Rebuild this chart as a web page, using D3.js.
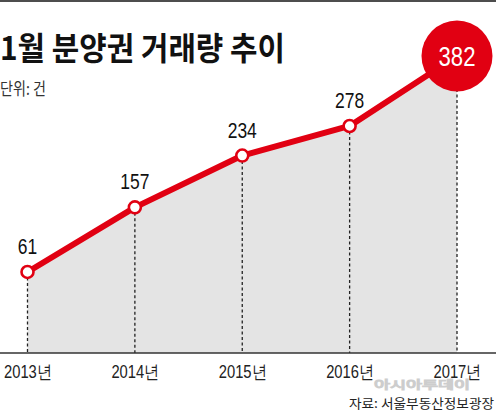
<!DOCTYPE html>
<html><head><meta charset="utf-8">
<script src="https://cdn.jsdelivr.net/npm/d3@7"></script>
<style>
html,body{margin:0;padding:0;background:#fff;}
svg{display:block;}
</style></head>
<body>
<svg id="chart" width="496" height="414"></svg>
<script>
const years = ["2013년", "2014년", "2015년", "2016년", "2017년"];
const values = [61, 157, 234, 278, 382];
const title = "1월 분양권 거래량 추이";
const unitLabel = "단위: 건";
const sourceLabel = "자료: 서울부동산정보광장";
const watermark = "아시아투데이";

const W = 496, H = 414;
const svg = d3.select("#chart");
const RED = "#e10012";
const numFont = "'Liberation Sans', Arial, sans-serif";
const kfont = "'Noto Sans CJK KR', 'Noto Sans', sans-serif";

const x = d3.scalePoint().domain(years).range([27.5, 457]);
const y = d3.scaleLinear().domain([0, 382]).range([313, 56]);
const axisY = 353;

// top border
svg.append("rect").attr("x", 0).attr("y", 0).attr("width", W).attr("height", 2).attr("fill", "#4d4d4d");

const data = years.map((yr, i) => ({yr, v: values[i]}));

// area
const area = d3.area().x(d => x(d.yr)).y0(axisY).y1(d => y(d.v));
svg.append("path").datum(data).attr("d", area).attr("fill", "#e4e4e4");

// dashed verticals
svg.selectAll("line.drop").data(data).join("line")
  .attr("class", "drop")
  .attr("x1", d => x(d.yr)).attr("x2", d => x(d.yr))
  .attr("y1", d => y(d.v)).attr("y2", axisY)
  .attr("stroke", "#222").attr("stroke-width", 1.3).attr("stroke-dasharray", "3,2.5");

// axis
const xAxis = d3.axisBottom(x).tickSize(0).tickPadding(0);
const ax = svg.append("g").attr("transform", `translate(0,${axisY})`).call(xAxis);
ax.select(".domain").remove();
ax.append("line").attr("x1", 0).attr("x2", W).attr("y1", 0).attr("y2", 0)
  .attr("stroke", "#333").attr("stroke-width", 1.5);
ax.selectAll(".tick text")
  .attr("y", 25).attr("dy", 0)
  .attr("font-family", numFont).attr("font-size", 17.5).attr("fill", "#222")
  .attr("textLength", 48).attr("lengthAdjust", "spacingAndGlyphs");

// line
const line = d3.line().x(d => x(d.yr)).y(d => y(d.v));
svg.append("path").datum(data).attr("d", line)
  .attr("fill", "none").attr("stroke", RED).attr("stroke-width", 6).attr("stroke-linejoin", "round");

const lastIdx = data.length - 1;
const small = data.slice(0, lastIdx);
const last = data[lastIdx];

// markers
svg.selectAll("circle.pt").data(small).join("circle")
  .attr("class", "pt")
  .attr("cx", d => x(d.yr)).attr("cy", d => y(d.v)).attr("r", 6)
  .attr("fill", "#fff").attr("stroke", RED).attr("stroke-width", 2.6);

// value labels
svg.selectAll("text.val").data(small).join("text")
  .attr("class", "val")
  .attr("x", d => x(d.yr)).attr("y", d => y(d.v) - 18)
  .attr("text-anchor", "middle")
  .attr("font-family", numFont).attr("font-size", 22).attr("fill", "#111")
  .attr("textLength", d => String(d.v).length * 9.7).attr("lengthAdjust", "spacingAndGlyphs")
  .text(d => d.v);

// big circle for last value
svg.append("circle").attr("cx", x(last.yr)).attr("cy", y(last.v)).attr("r", 35.5).attr("fill", RED);
svg.append("text").attr("x", x(last.yr)).attr("y", y(last.v) + 9.5)
  .attr("text-anchor", "middle").attr("font-family", numFont).attr("font-size", 27)
  .attr("textLength", 37).attr("lengthAdjust", "spacingAndGlyphs")
  .attr("fill", "#fff").text(last.v);

// title
svg.append("text").attr("x", 0).attr("y", 60)
  .attr("font-family", kfont).attr("font-weight", 700).attr("font-size", 32)
  .attr("fill", "#111").attr("textLength", 285).attr("lengthAdjust", "spacingAndGlyphs")
  .text(title);

svg.append("text").attr("x", 0).attr("y", 95)
  .attr("font-family", kfont).attr("font-size", 16.5).attr("fill", "#333")
  .attr("textLength", 46).attr("lengthAdjust", "spacingAndGlyphs")
  .text(unitLabel);

// watermark
svg.append("text").attr("x", 374).attr("y", 389)
  .attr("font-family", kfont).attr("font-size", 11).attr("fill", "#fff")
  .attr("stroke", "#c8c8c8").attr("stroke-width", 1.1).attr("opacity", 0.9)
  .attr("textLength", 96).attr("lengthAdjust", "spacingAndGlyphs")
  .text(watermark);

// source
svg.append("text").attr("x", 494).attr("y", 408).attr("text-anchor", "end")
  .attr("font-family", kfont).attr("font-size", 13).attr("fill", "#222")
  .attr("textLength", 145).attr("lengthAdjust", "spacingAndGlyphs")
  .text(sourceLabel);
</script>
</body></html>
